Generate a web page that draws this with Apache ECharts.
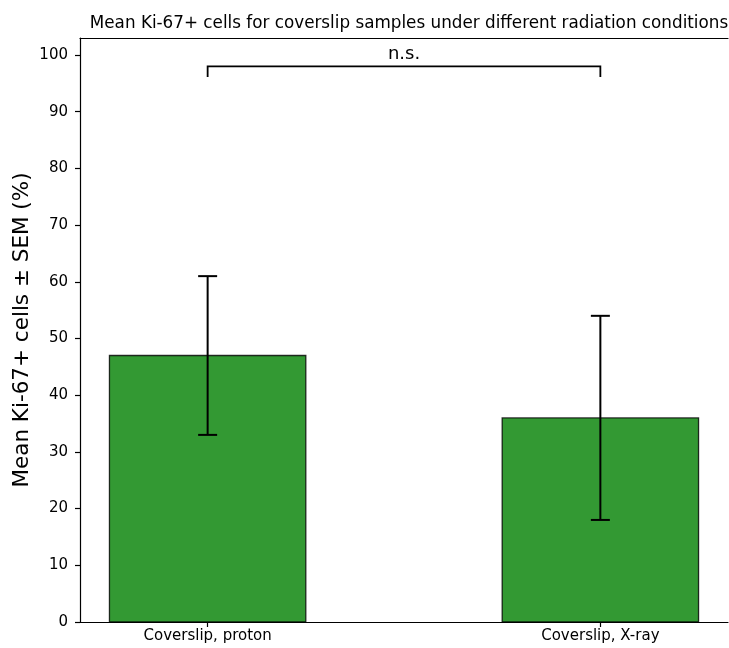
<!DOCTYPE html>
<html><head><meta charset="utf-8">
<script src="https://cdn.jsdelivr.net/npm/echarts@6/dist/echarts.min.js"></script>
<style>html,body{margin:0;padding:0;background:#fff}#c{width:729px;height:648px}</style>
</head><body><div id="c"></div>
<script>
const categories = ['Coverslip, proton', 'Coverslip, X-ray'];
const means = [47, 36];
const sems = [14, 18];
const yTicks = [0,10,20,30,40,50,60,70,80,90,100];
const sigLabel = 'n.s.';
const sigY = 98;
const sigLeg = 1.9;

const chart = echarts.init(document.getElementById('c'));
const F = 'DejaVu Sans';
const xIdx = categories.map((_, i) => i);

chart.setOption({
  animation: false,
  title: {
    text: 'Mean Ki-67+ cells for coverslip samples under different radiation conditions',
    left: 404, top: 10, textAlign: 'center',
    textStyle: {fontFamily: F, fontSize: 16.8, fontWeight: 'normal', color: '#000'}
  },
  grid: {left: 80, right: 1, top: 38, bottom: 26, containLabel: false, outerBoundsMode: 'none'},
  xAxis: [{
    type: 'value', min: -0.325, max: 1.325,
    axisLine: {show: true, onZero: false, lineStyle: {color: '#000', width: 1.2}},
    axisTick: {show: true, customValues: xIdx, length: 5, lineStyle: {color: '#000', width: 1.2}},
    axisLabel: {customValues: xIdx, formatter: v => categories[Math.round(v)] || '',
      fontFamily: F, fontSize: 15, color: '#000', margin: 7},
    splitLine: {show: false}
  }, {
    type: 'value', position: 'top', min: -0.325, max: 1.325,
    axisLine: {show: true, onZero: false, lineStyle: {color: '#000', width: 1.2}},
    axisTick: {show: false}, axisLabel: {show: false}, splitLine: {show: false}
  }],
  yAxis: {
    type: 'value', min: 0, max: 103,
    name: 'Mean Ki-67+ cells ± SEM (%)', nameLocation: 'middle', nameGap: 47, nameRotate: 90,
    nameMoveOverlap: false,
    nameTextStyle: {fontFamily: F, fontSize: 21.5, color: '#000'},
    axisLine: {show: true, onZero: false, lineStyle: {color: '#000', width: 1.2}},
    axisTick: {show: true, customValues: yTicks, length: 5, lineStyle: {color: '#000', width: 1.2}},
    axisLabel: {customValues: yTicks, fontFamily: F, fontSize: 15, color: '#000', margin: 12},
    splitLine: {show: false}
  },
  series: [{
    type: 'custom',
    data: means.map((m, i) => [i, m]),
    renderItem: (params, api) => {
      const x = api.value(0), y = api.value(1);
      const p0 = api.coord([x - 0.25, y]);
      const p1 = api.coord([x + 0.25, 0]);
      return {type: 'rect', shape: {x: p0[0], y: p0[1], width: p1[0] - p0[0], height: p1[1] - p0[1]},
        style: {fill: '#339933', stroke: 'rgba(0,0,0,0.8)', lineWidth: 1.3}};
    }
  }, {
    type: 'custom',
    data: means.map((m, i) => [i, m - sems[i], m + sems[i]]),
    z: 5,
    renderItem: (params, api) => {
      const x = api.value(0);
      const lo = api.coord([x, api.value(1)]);
      const hi = api.coord([x, api.value(2)]);
      const c = 9.5;
      const st = {stroke: '#000', lineWidth: 2};
      return {type: 'group', children: [
        {type: 'line', shape: {x1: lo[0], y1: lo[1], x2: hi[0], y2: hi[1]}, style: st},
        {type: 'line', shape: {x1: lo[0]-c, y1: lo[1], x2: lo[0]+c, y2: lo[1]}, style: st},
        {type: 'line', shape: {x1: hi[0]-c, y1: hi[1], x2: hi[0]+c, y2: hi[1]}, style: st}
      ]};
    }
  }, {
    type: 'custom',
    data: [[0, 1, sigY]],
    z: 5,
    renderItem: (params, api) => {
      const a = api.coord([api.value(0), api.value(2)]);
      const b = api.coord([api.value(1), api.value(2)]);
      const a2 = api.coord([api.value(0), api.value(2) - sigLeg]);
      const b2 = api.coord([api.value(1), api.value(2) - sigLeg]);
      return {type: 'group', children: [
        {type: 'polyline', shape: {points: [a2, a, b, b2]}, style: {stroke: '#000', lineWidth: 1.8, fill: null}},
        {type: 'text', x: (a[0] + b[0]) / 2, y: a[1] - 3,
          style: {text: sigLabel, fontFamily: F, fontSize: 18, fill: '#000', align: 'center', verticalAlign: 'bottom'}}
      ]};
    }
  }]
});
</script></body></html>
